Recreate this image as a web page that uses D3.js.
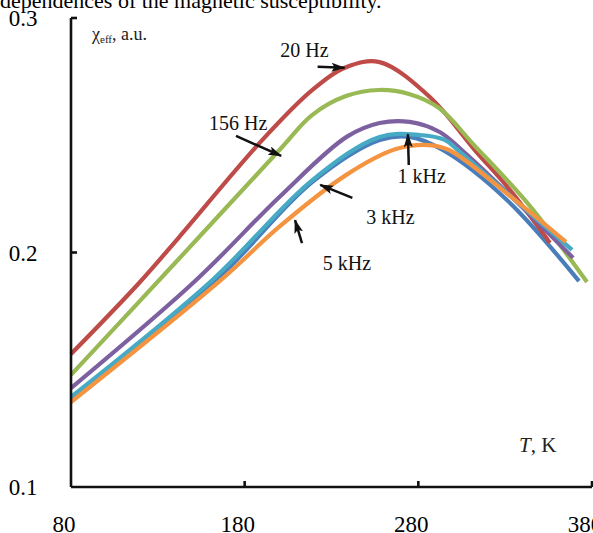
<!DOCTYPE html>
<html>
<head>
<meta charset="utf-8">
<script src="https://cdn.jsdelivr.net/npm/d3@7"></script>
<style>
  body { margin: 0; background: #fff; }
  svg { display: block; font-family: "Liberation Serif", "DejaVu Serif", serif; }
</style>
</head>
<body>
<svg id="chart" width="593" height="533"></svg>
<script>
// temperature (K) and susceptibility (a.u.)
const xTicks = [80, 180, 280, 380];
const yTicks = [0.1, 0.2, 0.3];

// Excel 2007 palette order: blue, red, green, purple, aqua, orange
const blueT   = [80, 163.7, 219, 257.7, 275, 294.1, 331, 372.5];
const blueV   = [0.1375, 0.1883, 0.2301, 0.2480, 0.2493, 0.2437, 0.2224, 0.1878];

const redT    = [80, 119.2, 142.3, 190.2, 219, 238.7, 257.7, 286.6, 312.5, 332.7, 355.8];
const redV    = [0.1567, 0.1870, 0.2066, 0.2480, 0.2693, 0.2791, 0.2812, 0.2663, 0.2437, 0.2267, 0.2041];

const greenT  = [80, 139.9, 200, 218.8, 238.3, 257.3, 274.6, 291.9, 312.1, 343.7, 377.1];
const greenV  = [0.1478, 0.1955, 0.2437, 0.2586, 0.2667, 0.2693, 0.2676, 0.2616, 0.2458, 0.2203, 0.1874];

const purpleT = [80, 152.1, 200, 238.7, 257.7, 275, 292.3, 305, 338.5, 369.1];
const purpleV = [0.1422, 0.1883, 0.2237, 0.2493, 0.2552, 0.2557, 0.2514, 0.2437, 0.2203, 0.1977];

const aquaT   = [80, 161.4, 219, 257.7, 280.8, 295.2, 302.7, 335.6, 368.5];
const aquaV   = [0.1384, 0.1883, 0.2309, 0.2493, 0.2501, 0.2480, 0.2437, 0.2224, 0.2011];

const orangeT = [80, 166.4, 199.8, 238.3, 267.1, 286.1, 297.7, 332.2, 365.0];
const orangeV = [0.1362, 0.1883, 0.2109, 0.2330, 0.2441, 0.2458, 0.2437, 0.2245, 0.2045];

const series = [
  { T: blueT,   V: blueV,   color: "#4a7ebb" },
  { T: redT,    V: redV,    color: "#be4b48" },
  { T: greenT,  V: greenV,  color: "#98b954" },
  { T: purpleT, V: purpleV, color: "#7d60a0" },
  { T: aquaT,   V: aquaV,   color: "#46aac5" },
  { T: orangeT, V: orangeV, color: "#f59440" }
];

// label text, label position, arrow tail and tip in data units
const notes = [
  { text: "20 Hz",  lx: 200.5, ly: 0.2834, from: [222, 0.2792], to: [237.5, 0.2788] },
  { text: "156 Hz", lx: 159.5, ly: 0.2524, from: [175, 0.2497], to: [201, 0.2412] },
  { text: "1 kHz",  lx: 268,   ly: 0.2296, from: [274.5, 0.2373], to: [274, 0.2504] },
  { text: "3 kHz",  lx: 250,   ly: 0.2121, from: [242, 0.2233], to: [223.5, 0.2288] },
  { text: "5 kHz",  lx: 225,   ly: 0.1925, from: [213, 0.2040], to: [209, 0.2138] }
];

const svg = d3.select("#chart");

const x = d3.scaleLinear().domain([80, 380]).range([71, 592]);
const y = d3.scaleLinear().domain([0.1, 0.3]).range([487, 18]);

// caption cut off at the top
svg.append("text")
  .attr("x", 0).attr("y", 8)
  .attr("font-size", 22)
  .text("dependences of the magnetic susceptibility.");

// curves
const line = d3.line()
  .x(d => x(d[0]))
  .y(d => y(d[1]))
  .curve(d3.curveCatmullRom.alpha(0.5));

series.forEach(s => {
  svg.append("path")
    .attr("d", line(s.T.map((t, i) => [t, s.V[i]])))
    .attr("fill", "none")
    .attr("stroke", s.color)
    .attr("stroke-width", 4.2);
});

// axes
const ax = svg.append("g").attr("stroke", "#111").attr("stroke-width", 2.6).attr("fill", "none");
ax.append("path").attr("d", `M${x(80)},${y(0.1)}H${x(380)}`);
ax.append("path").attr("d", `M${x(80)},${y(0.1)}V${y(0.3)}`);
xTicks.slice(1).forEach(t => {
  ax.append("line").attr("x1", x(t)).attr("x2", x(t)).attr("y1", y(0.1)).attr("y2", y(0.1) - 6);
});
yTicks.slice(1).forEach(v => {
  ax.append("line").attr("x1", x(80)).attr("x2", x(80) + 6).attr("y1", y(v)).attr("y2", y(v));
});

svg.selectAll(".xl").data(xTicks).enter().append("text")
  .attr("x", d => x(d) - 7).attr("y", 532)
  .attr("text-anchor", "middle").attr("font-size", 23)
  .text(d => d);

svg.selectAll(".yl").data(yTicks).enter().append("text")
  .attr("x", 23).attr("y", d => y(d) + 8)
  .attr("text-anchor", "middle").attr("font-size", 23)
  .text(d => d.toFixed(1));

// axis titles
const yt = svg.append("text").attr("x", 92).attr("y", 40).attr("font-size", 18).attr("fill", "#222");
yt.append("tspan").text("χ");
yt.append("tspan").attr("font-size", 11).attr("dy", 3).text("eff");
yt.append("tspan").attr("dy", -3).text(", a.u.");

const xt = svg.append("text").attr("x", 519).attr("y", 452).attr("font-size", 21).attr("fill", "#222");
xt.append("tspan").attr("font-style", "italic").text("T");
xt.append("tspan").text(", K");

// arrow annotations
svg.append("defs").append("marker")
  .attr("id", "head")
  .attr("viewBox", "0 0 14 9")
  .attr("refX", 13).attr("refY", 4.5)
  .attr("markerWidth", 14).attr("markerHeight", 9)
  .attr("markerUnits", "userSpaceOnUse")
  .attr("orient", "auto")
  .append("path").attr("d", "M0,0L14,4.5L0,9L3,4.5Z").attr("fill", "#111");

notes.forEach(n => {
  svg.append("text")
    .attr("x", x(n.lx)).attr("y", y(n.ly))
    .attr("font-size", 20).attr("fill", "#111")
    .text(n.text);
  svg.append("line")
    .attr("x1", x(n.from[0])).attr("y1", y(n.from[1]))
    .attr("x2", x(n.to[0])).attr("y2", y(n.to[1]))
    .attr("stroke", "#111").attr("stroke-width", 2.5)
    .attr("marker-end", "url(#head)");
});
</script>
</body>
</html>
